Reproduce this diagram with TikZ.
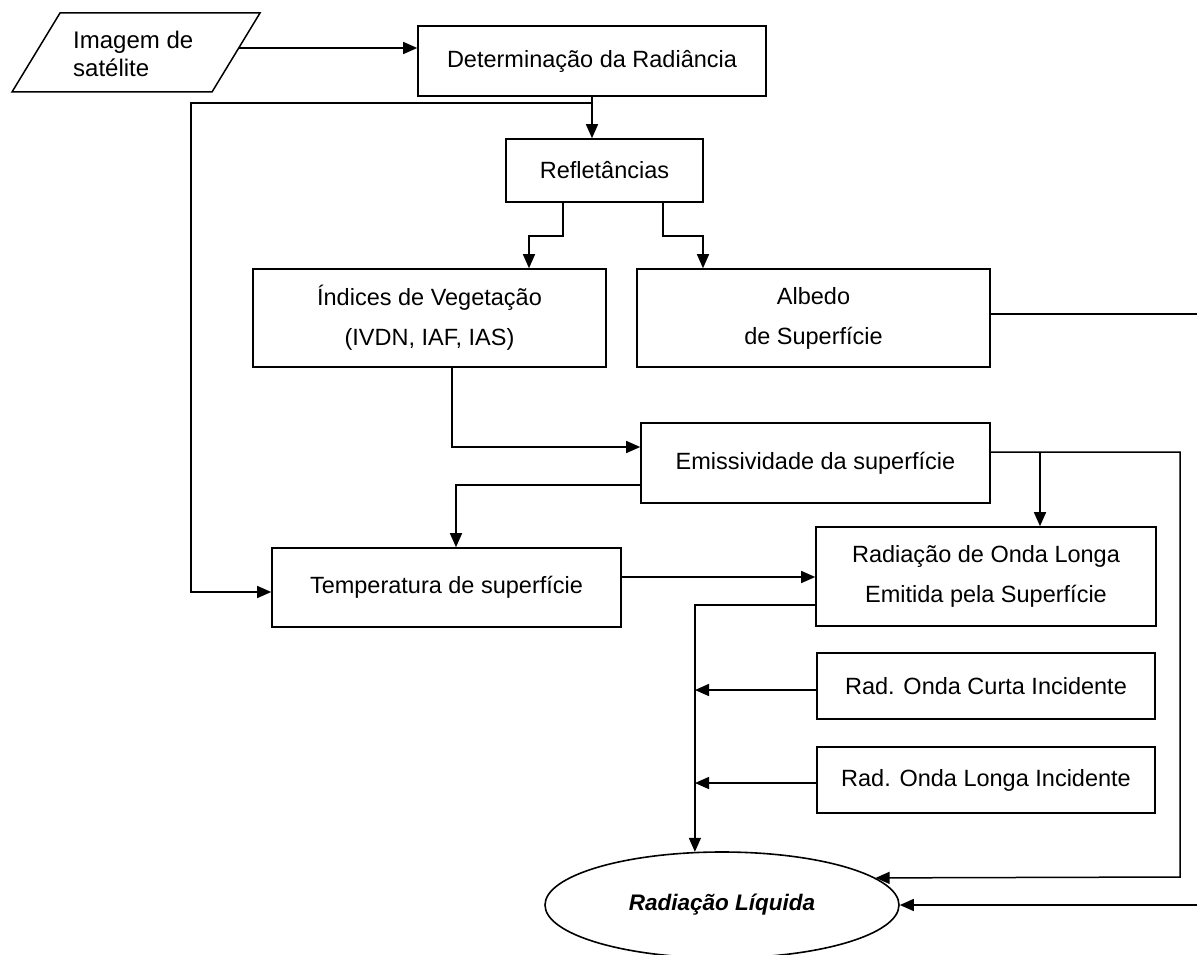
\documentclass[tikz,border=0pt]{standalone}
\usepackage{fontspec}
\setmainfont{Liberation Sans}
\usetikzlibrary{arrows.meta,shapes.geometric}
\begin{document}
\begin{tikzpicture}[x=1pt,y=-1pt,
  box/.style={draw, line width=1.6pt, inner sep=0pt, align=center, font=\fontsize{23.5}{40}\selectfont},
  conn/.style={line width=1.5pt},
  arr/.style={conn, -{Triangle[length=14pt,width=12pt]}}]
\useasboundingbox (0,0) rectangle (1197,955);
\clip (0,0) rectangle (1197,955);
\fill[white] (0,0) rectangle (1197,955);

% input parallelogram
\draw[conn] (60,13) -- (260,13) -- (212,92) -- (12,92) -- cycle;
\node[anchor=west, align=left, inner sep=0pt, font=\fontsize{24}{28}\selectfont] (img) at (73,54) {Imagem de\\satélite};
\coordinate (imgR) at (239,48);

% boxes
\node[box, minimum width=348pt, minimum height=70pt] (det) at (592,61) {Determinação da Radiância};
\node[box, minimum width=197pt, minimum height=63pt] (ref) at (604.5,170.5) {Refletâncias};
\node[box, minimum width=353pt, minimum height=98pt] (ind) at (429.5,318) {Índices de Vegetação\\(IVDN, IAF, IAS)};
\node[box, minimum width=353pt, minimum height=98pt] (alb) at (813.5,318) {Albedo\\de Superfície};
\node[box, minimum width=349pt, minimum height=80pt] (emi) at (815.5,463) {Emissividade da superfície};
\node[box, minimum width=349pt, minimum height=79pt] (tmp) at (446.5,587.5) {Temperatura de superfície};
\node[box, minimum width=340pt, minimum height=99pt] (rol) at (986,576.5) {Radiação de Onda Longa\\Emitida pela Superfície};
\node[box, minimum width=338pt, minimum height=66pt] (roc) at (986,686) {Rad. Onda Curta Incidente};
\node[box, minimum width=338pt, minimum height=66pt] (rli) at (986,780) {Rad. Onda Longa Incidente};
\node[draw, ellipse, line width=1.6pt, inner sep=0pt, minimum width=354pt, minimum height=106pt,
      font=\fontsize{22.5}{27}\selectfont\bfseries\itshape] (rad) at (722,905) {Radiação Líquida};

% junction coordinates
\coordinate (j1) at (592,103);
\coordinate (j2) at (1040,452);
\coordinate (vline) at (695,700);

% connectors
\draw[arr] (imgR) -- (imgR -| det.west);
\draw[arr] (det.south) -- (det.south |- ref.north);
\draw[arr] (j1) -| (191,592) -- (tmp.west |- 0,592);
\draw[arr] ([xshift=-41.5pt]ref.south) -- ++(0,33) -| ([xshift=99.5pt]ind.north);
\draw[arr] ([xshift=58.5pt]ref.south) -- ++(0,33) -| ([xshift=-110.5pt]alb.north);
\draw[arr] ([xshift=22.5pt]ind.south) |- (emi.west |- 0,447);
\draw[arr] (emi.west |- 0,485) -| ([xshift=9.5pt]tmp.north);
\draw[arr] (tmp.east |- 0,577) -- (rol.west |- 0,577);
\draw[arr] (emi.east |- 0,452) -| (1180,877) -- (rad.10.5);
\draw[arr] (j2) -- ([xshift=54pt]rol.north);
\draw[arr] (rol.west |- 0,605) -| (rad.117.3);
\draw[arr] (roc.west |- 0,690) -- (vline |- 0,690);
\draw[arr] (rli.west |- 0,783) -- (vline |- 0,783);
\draw[arr] (alb.east |- 0,314) -- (1210,314) -- (1210,905) -- (rad.east);
\end{tikzpicture}
\end{document}
